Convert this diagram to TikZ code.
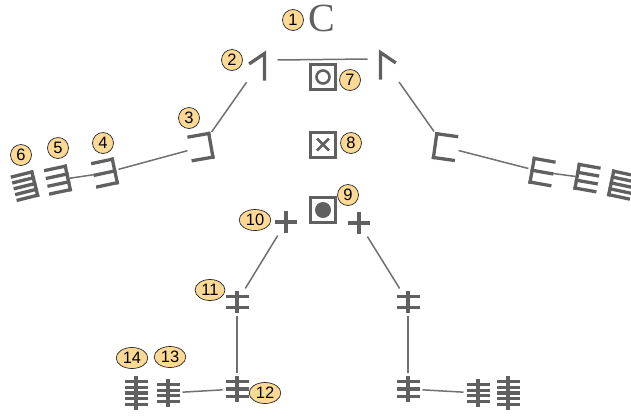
\documentclass[tikz,border=0pt]{standalone}
\usepackage{fontspec}
\setsansfont{Liberation Sans}
\newfontfamily\headfont{Liberation Serif}
\usetikzlibrary{shapes.geometric}

\definecolor{ink}{RGB}{96,96,96}
\definecolor{bone}{RGB}{112,112,112}
\definecolor{tag}{RGB}{253,217,150}

\begin{document}
\begin{tikzpicture}[
        x=1pt, y=-1pt,
        part/.style={inner sep=0pt, outer sep=0pt},
        stroke/.style={draw=ink, line width=3.3pt, line cap=rect},
        link/.style={draw=bone, line width=1.5pt, shorten <=3pt, shorten >=3pt},
        box/.style={draw=ink, line width=3pt, minimum size=25pt, inner sep=0pt},
        num/.style={ellipse, draw=black!85, fill=tag, line width=0.7pt, minimum size=21pt, inner xsep=2pt, inner ysep=1pt, font=\sffamily\fontsize{16.5}{16.5}\selectfont},
        shoulder/.pic={
            \node[part, minimum width=16pt, minimum height=26pt] (-box) {};
            \coordinate (-joint) at (19.5,-6);
            \draw[stroke] (-7.5,-3) -- (6.5,-12.5) -- (6.5,13);
        },
        fingers/.pic={
            \node[part, minimum width=22pt, minimum height=26pt] (-box) {};
            \draw[stroke] (10,-12) -- (10,12);
            \foreach \k in {1,...,#1}
                \draw[stroke] (-10,{-12+(\k-1)*24/(#1-1)}) -- (10,{-12+(\k-1)*24/(#1-1)});
        },
        toes/.pic={
            \pgfmathsetmacro\tgap{#1==2 ? 11 : (#1==3 ? 7.5 : 5.6)}
            \pgfmathsetmacro\tlen{(#1-1)*\tgap/2+5.5}
            \node[part, minimum width=23pt, minimum height=2*\tlen] (-box) {};
            \draw[stroke, line cap=butt] (0,-\tlen) -- (0,\tlen);
            \foreach \k in {1,...,#1}
                \draw[stroke, line cap=butt] (-11.5,{-(#1-1)*\tgap/2+(\k-1)*\tgap}) -- ++(23,0);
        },
        hip/.pic={
            \node[part, minimum size=22pt] (-box) {};
            \draw[stroke, line cap=butt] (-11,0) -- (11,0) (0,-11) -- (0,11);
        }
    ]
    \useasboundingbox (0,0) rectangle (631,416);

    % head and torso
    \node[text=ink, font=\headfont\fontsize{40}{40}\selectfont, inner sep=0pt] (head) at (322,18) {C};
    \node[box] (neck) at (323,77) {};
    \node[box] (chest) at (323,144.5) {};
    \node[box] (belly) at (323,210) {};
    \draw[ink, line width=2.6pt] (neck.center) circle[radius=6.5pt];
    \draw[ink, line width=2.8pt] (chest.center) +(-6,-6) -- +(6,6) (chest.center) +(-6,6) -- +(6,-6);
    \fill[ink] (belly.center) circle[radius=8pt];

    % arms
    \pic (shL) at (258,66) {shoulder};
    \pic[xscale=-1, transform shape] (shR) at (387,65) {shoulder};
    \pic[rotate=10, transform shape] (elbL) at (201,147) {fingers=2};
    \pic[rotate=12, transform shape] (handL) at (105,173) {fingers=3};
    \pic[rotate=12, transform shape] (fourL) at (58,180) {fingers=4};
    \pic[rotate=14, transform shape] (fiveL) at (25,186) {fingers=5};
    \pic[rotate=-8, xscale=-1, transform shape] (elbR) at (445,147) {fingers=2};
    \pic[rotate=-10, xscale=-1, transform shape] (handR) at (542,172) {fingers=3};
    \pic[rotate=-10, xscale=-1, transform shape] (fourR) at (587,178) {fingers=4};
    \pic[rotate=-12, xscale=-1, transform shape] (fiveR) at (621,185) {fingers=5};

    % legs
    \pic (hipL) at (286,222) {hip};
    \pic (hipR) at (359,223) {hip};
    \pic (kneeL) at (237,302) {toes=2};
    \pic (footL) at (237,389) {toes=3};
    \pic (fourT) at (168,393) {toes=4};
    \pic (fiveT) at (136,393) {toes=5};
    \pic (kneeR) at (408,302) {toes=2};
    \pic (footR) at (408,389) {toes=3};
    \pic (fourTR) at (478,393) {toes=4};
    \pic (fiveTR) at (508,393) {toes=5};

    \draw[link, shorten <=0pt, shorten >=0pt] (shL-joint) -- (shR-joint);
    \draw[link, shorten <=6pt] (shL-box) -- (elbL-box);
    \draw[link] (elbL-box) -- (handL-box);
    \draw[link, shorten <=0pt, shorten >=0pt] (handL-box) -- (fourL-box);
    \draw[link, shorten <=7pt] (shR-box) -- (elbR-box);
    \draw[link] (elbR-box) -- (handR-box);
    \draw[link, shorten <=0pt, shorten >=0pt] (handR-box) -- (fourR-box);
    \draw[link] (hipL-box) -- (kneeL-box);
    \draw[link] (kneeL-box) -- (footL-box);
    \draw[link] (footL-box) -- (fourT-box);
    \draw[link] (hipR-box) -- (kneeR-box);
    \draw[link] (kneeR-box) -- (footR-box);
    \draw[link] (footR-box) -- (fourTR-box);

    % numbers
    \node[num] (n1) at (293,20) {1};
    \node[num] (n2) at (232,60) {2};
    \node[num] (n3) at (189,118) {3};
    \node[num] (n4) at (103,143) {4};
    \node[num] (n5) at (58,148) {5};
    \node[num] (n6) at (21,155) {6};
    \node[num] (n7) at (350,80) {7};
    \node[num] (n8) at (351,143) {8};
    \node[num] (n9) at (348,195) {9};
    \node[num] (n10) at (255,220) {10};
    \node[num] (n11) at (210,290) {11};
    \node[num] (n12) at (265,393) {12};
    \node[num] (n13) at (170,357) {13};
    \node[num] (n14) at (132,358) {14};
\end{tikzpicture}
\end{document}
